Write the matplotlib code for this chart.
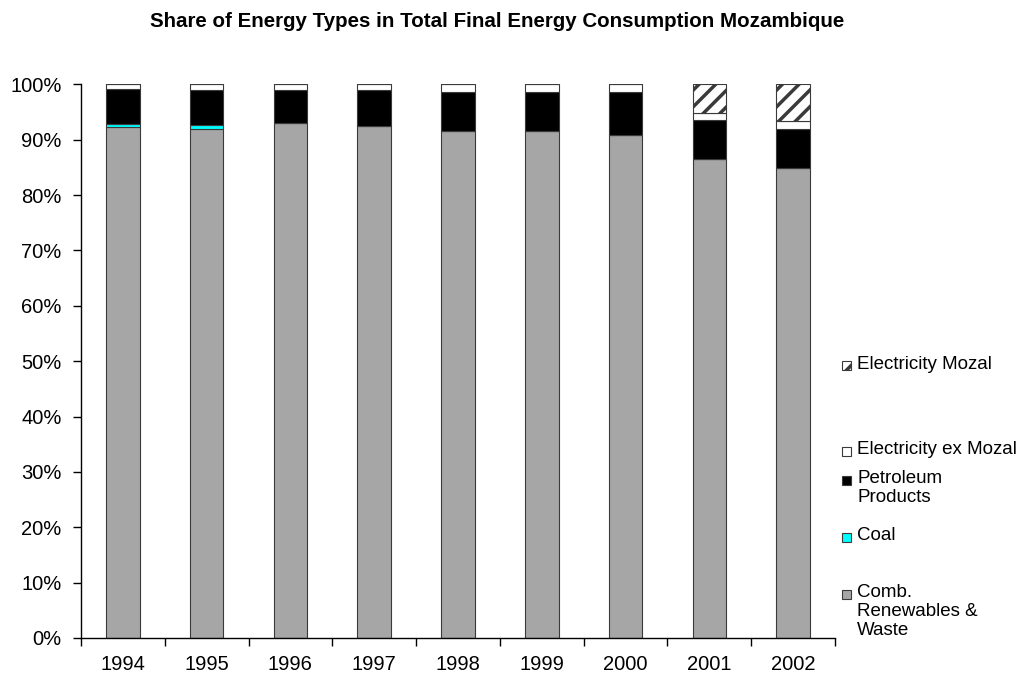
import matplotlib.pyplot as plt
import matplotlib.patches as mpatches
import numpy as np

plt.rcParams['font.family'] = ['Liberation Sans', 'DejaVu Sans']
plt.rcParams['hatch.linewidth'] = 2.5

# Data (share in %)
years = ['1994', '1995', '1996', '1997', '1998', '1999', '2000', '2001', '2002']
comb_renew = [92.3, 92.0, 93.0, 92.4, 91.5, 91.5, 90.8, 86.6, 84.8]
coal = [0.6, 0.6, 0.0, 0.0, 0.0, 0.0, 0.0, 0.0, 0.0]
petroleum = [6.3, 6.3, 5.9, 6.5, 7.1, 7.1, 7.8, 7.0, 7.1]
elec_ex_mozal = [0.8, 1.1, 1.1, 1.1, 1.4, 1.4, 1.4, 1.3, 1.5]
elec_mozal = [0.0, 0.0, 0.0, 0.0, 0.0, 0.0, 0.0, 5.1, 6.6]

series_names = ['Comb.\nRenewables &\nWaste', 'Coal', 'Petroleum\nProducts',
                'Electricity ex Mozal', 'Electricity Mozal']
series_values = [comb_renew, coal, petroleum, elec_ex_mozal, elec_mozal]
colors = ['#A6A6A6', '#00FFFF', '#000000', '#FFFFFF', '#FFFFFF']
hatches = [None, None, None, None, '//']

fig = plt.figure(figsize=(10.21, 6.79), dpi=100)
ax = fig.add_axes([0.0793, 0.0604, 0.7385, 0.8154])

x = np.arange(len(years))
bottom = np.zeros(len(years))
for vals, col, h in zip(series_values, colors, hatches):
    vals = np.array(vals)
    ax.bar(x, vals, width=0.4, bottom=bottom, color=col, edgecolor='#3a3a3a',
           linewidth=0.8, hatch=h)
    bottom += vals

ax.set_xlim(-0.5, len(years) - 0.5)
ax.set_ylim(0, 100)
ax.set_yticks(np.arange(0, 101, 10))
ax.set_yticklabels([f'{v}%' for v in range(0, 101, 10)])
ax.set_xticks(x)
ax.set_xticklabels(years)
ax.set_xticks(np.arange(-0.5, len(years), 1), minor=True)
ax.tick_params(axis='x', which='major', length=0, pad=12, labelsize=14.5)
ax.tick_params(axis='x', which='minor', length=6, width=1, direction='out')
ax.tick_params(axis='y', length=6, width=1, direction='out', pad=8, labelsize=14.5)
for s in ['top', 'right']:
    ax.spines[s].set_visible(False)
for s in ['left', 'bottom']:
    ax.spines[s].set_linewidth(1)

fig.text(0.487, 0.968, 'Share of Energy Types in Total Final Energy Consumption Mozambique',
         ha='center', va='center', fontsize=14.8, fontweight='bold')

# Legend (Excel style, top = last series); first-line centres in pixels from top
leg_y = [594, 537, 480, 451, 366]
W, H = 1021, 679
for name, col, h, yp in zip(series_names, colors, hatches, leg_y):
    fy = 1 - yp / H
    fig.patches.append(mpatches.Rectangle((842 / W, fy - 4.5 / H), 9 / W, 9 / H,
                                          transform=fig.transFigure, facecolor=col,
                                          edgecolor='#3a3a3a', linewidth=0.8,
                                          hatch=h))
    fig.text(857 / W, fy + 10 / H, name, ha='left', va='top', fontsize=13.5,
             linespacing=1.15)

fig.savefig('out.png', dpi=100)
